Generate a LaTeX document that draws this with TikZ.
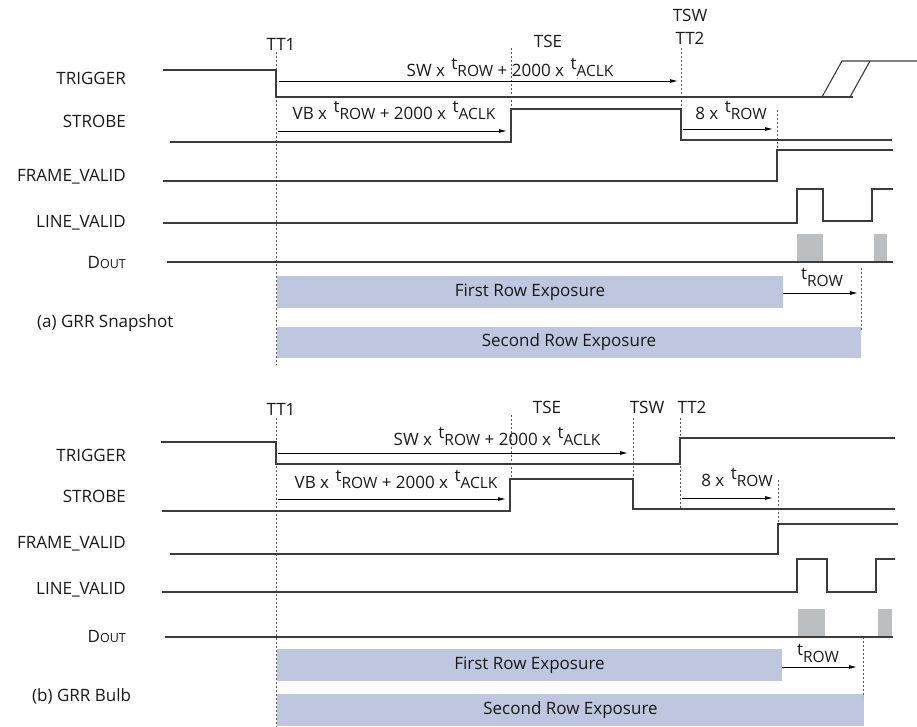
\documentclass[tikz,border=0pt]{standalone}
\usepackage{fontspec}
\setmainfont{Open Sans}
\usepackage{xcolor}
\usetikzlibrary{arrows.meta}
\definecolor{wave}{HTML}{3C3C3C}
\definecolor{expo}{HTML}{BFC6DF}
\definecolor{data}{HTML}{BBBFC2}
\tikzstyle{signal}=[draw=wave, line width=1.1pt]
\tikzstyle{marker}=[draw=wave!85, line width=0.8pt, dash pattern=on 2pt off 2pt]
\tikzstyle{span}=[draw=black, line width=0.9pt, -{Latex[length=8pt,width=4pt]}]
\tikzstyle{siglabel}=[anchor=east, inner sep=0pt, text=black!90, font=\fontsize{17}{20}\selectfont]
\tikzstyle{timelabel}=[inner sep=0pt, text=black!90, font=\fontsize{17}{20}\selectfont]
\tikzstyle{exposure}=[fill=expo, inner sep=0pt, text=black!90, font=\fontsize{17}{20}\selectfont]
\tikzstyle{dout}=[fill=data]
\newcommand{\tsym}[1]{\hspace{2pt}\raisebox{7pt}{t}{\fontsize{15.5}{16}\selectfont #1}}
\newcommand{\doutname}{D{\fontsize{12.5}{14}\selectfont OUT}}

\begin{document}
\begin{tikzpicture}[x=1pt, y=-1pt]
	\useasboundingbox (0,0) rectangle (917,727);
	% (a) GRR Snapshot
	\node [style=siglabel] (trga) at (126,78) {TRIGGER};
	\node [style=siglabel] (stra) at (126,121) {STROBE};
	\node [style=siglabel] (fva) at (126,177) {FRAME\_VALID};
	\node [style=siglabel] (lva) at (126,223) {LINE\_VALID};
	\node [style=siglabel] (doa) at (126,262) {\doutname};
	\node [style=timelabel, anchor=west] (capa) at (37,323) {(a) GRR Snapshot};
	\node [style=timelabel] (tt1a) at (281,44) {TT1};
	\node [style=timelabel] (tsea) at (548,41) {TSE};
	\node [style=timelabel] (tswa) at (690,15) {TSW};
	\node [style=timelabel] (tt2a) at (690,38) {TT2};

	\node [style=exposure, minimum width=506pt, minimum height=32pt] (row1a) at (530,292) {First Row Exposure};
	\node [style=exposure, minimum width=584pt, minimum height=31pt] (row2a) at (569,342.5) {Second Row Exposure};

	\draw [style=marker] (276,52) -- (276,365);
	\draw [style=marker] (511,48) -- (511,109);
	\draw [style=marker] (681,48) -- (681,140);
	\draw [style=marker] (777,110) -- (777,150);
	\draw [style=marker] (861,268) -- (861,330);

	\draw [style=signal] (163,70) -- (276,70) -- (276,97) -- (853,97);
	\draw [style=signal] (822,97) -- (842,61) -- (917,61);
	\draw [style=signal] (850,97) -- (870,61);
	\draw [style=signal] (170,142) -- (511,142) -- (511,109) -- (681,109) -- (681,140) -- (892,140);
	\draw [style=signal] (163,181) -- (777,181) -- (777,150) -- (893,150);
	\draw [style=signal] (163,223) -- (797,223) -- (797,189) -- (823,189) -- (823,221) -- (872,221) -- (872,189) -- (893,189);
	\fill [style=dout] (797,234) rectangle (823,262);
	\fill [style=dout] (874,234) rectangle (887,262);
	\draw [style=signal] (167,262) -- (893,262);

	\coordinate (swsa) at (279,81);
	\coordinate (swea) at (678,81);
	\coordinate (vbsa) at (278,131);
	\coordinate (vbea) at (507,131);
	\coordinate (rwsa) at (683,129);
	\coordinate (rwea) at (773,129);
	\coordinate (trea) at (858,293);
	\draw [style=span] (swsa) to (swea);
	\draw [style=span] (vbsa) to (vbea);
	\draw [style=span] (rwsa) to (rwea);
	\draw [style=span] (row1a.east |- trea) to (trea);
	\node [style=timelabel, anchor=base] (swla) at (510,77) {SW x \tsym{ROW} + 2000 x \tsym{ACLK}};
	\node [style=timelabel, anchor=base] (vbla) at (394,120) {VB x \tsym{ROW} + 2000 x \tsym{ACLK}};
	\node [style=timelabel, anchor=base] (rwla) at (731,120) {8 x \tsym{ROW}};
	\node [style=timelabel, anchor=base] (trla) at (821,286) {\tsym{ROW}};

	% (b) GRR Bulb
	\node [style=siglabel] (trgb) at (126,455) {TRIGGER};
	\node [style=siglabel] (strb) at (126,496) {STROBE};
	\node [style=siglabel] (fvb) at (126,544) {FRAME\_VALID};
	\node [style=siglabel] (lvb) at (126,590) {LINE\_VALID};
	\node [style=siglabel] (dob) at (126,636) {\doutname};
	\node [style=timelabel, anchor=west] (capb) at (32,696) {(b) GRR Bulb};
	\node [style=timelabel] (tt1b) at (281,409) {TT1};
	\node [style=timelabel] (tseb) at (547,407) {TSE};
	\node [style=timelabel] (tswb) at (647,407) {TSW};
	\node [style=timelabel] (tt2b) at (692,407) {TT2};

	\node [style=exposure, minimum width=505pt, minimum height=32pt] (row1b) at (529.5,665) {First Row Exposure};
	\node [style=exposure, minimum width=587pt, minimum height=32pt] (row2b) at (570.5,710) {Second Row Exposure};

	\draw [style=marker] (276,418) -- (276,727);
	\draw [style=marker] (511,415) -- (511,479);
	\draw [style=marker] (633,418) -- (633,509);
	\draw [style=marker] (680,418) -- (680,509);
	\draw [style=marker] (778,480) -- (778,524);
	\draw [style=marker] (863,637) -- (863,697);

	\draw [style=signal] (161,442) -- (276,442) -- (276,464) -- (680,464) -- (680,438) -- (895,438);
	\draw [style=signal] (162,511) -- (510,511) -- (510,479) -- (633,479) -- (633,509) -- (895,509);
	\draw [style=signal] (170,554) -- (778,554) -- (778,524) -- (898,524);
	\draw [style=signal] (162,592) -- (797,592) -- (797,559) -- (827,559) -- (827,592) -- (876,592) -- (876,559) -- (895,559);
	\fill [style=dout] (798,609) rectangle (825,637);
	\fill [style=dout] (878,609) rectangle (892,637);
	\draw [style=signal] (165,637) -- (893,637);

	\coordinate (swsb) at (278,453);
	\coordinate (sweb) at (628,453);
	\coordinate (vbsb) at (278,499);
	\coordinate (vbeb) at (506,499);
	\coordinate (rwsb) at (682,498);
	\coordinate (rweb) at (773,498);
	\coordinate (treb) at (857,667);
	\draw [style=span] (swsb) to (sweb);
	\draw [style=span] (vbsb) to (vbeb);
	\draw [style=span] (rwsb) to (rweb);
	\draw [style=span] (row1b.east |- treb) to (treb);
	\node [style=timelabel, anchor=base] (swlb) at (497,445) {SW x \tsym{ROW} + 2000 x \tsym{ACLK}};
	\node [style=timelabel, anchor=base] (vblb) at (396,488) {VB x \tsym{ROW} + 2000 x \tsym{ACLK}};
	\node [style=timelabel, anchor=base] (rwlb) at (737,486) {8 x \tsym{ROW}};
	\node [style=timelabel, anchor=base] (trlb) at (817,662) {\tsym{ROW}};
\end{tikzpicture}
\end{document}
